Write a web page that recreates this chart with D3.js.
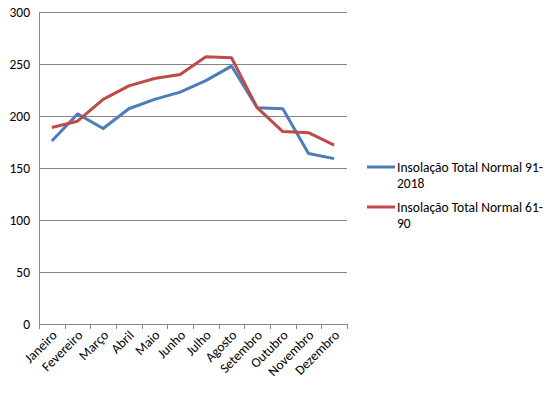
<!DOCTYPE html>
<html>
<head>
<meta charset="utf-8">
<script src="https://cdn.jsdelivr.net/npm/d3@7"></script>
<style>
  body { margin: 0; background: #fff; }
  svg { font-family: Calibri, Carlito, "Liberation Sans", Arial, sans-serif; }
</style>
</head>
<body>
<svg id="chart" width="556" height="393"></svg>
<script>
const months = ["Janeiro", "Fevereiro", "Março", "Abril", "Maio", "Junho",
    "Julho", "Agosto", "Setembro", "Outubro", "Novembro", "Dezembro"];
const normal91 = [176, 202, 188, 207, 216, 223, 234, 248, 208, 207, 164, 159];
const normal61 = [189, 195, 216, 229, 236, 240, 257, 256, 208, 185, 184, 172];
const yTicks = [0, 50, 100, 150, 200, 250, 300];
const seriesNames = ["Insolação Total Normal 91-2018", "Insolação Total Normal 61-90"];
const seriesColors = ["#4a7ebb", "#be4b48"];

const svg = d3.select("#chart");
const margin = { top: 12, left: 39 },
    width = 308,
    height = 312;

const x = d3.scaleBand().domain(months).range([0, width]);
const y = d3.scaleLinear().domain([0, 300]).range([height, 0]);

const chart = svg.append("g")
    .attr("transform", `translate(${margin.left},${margin.top})`);

// gridlines
chart.selectAll(".grid")
    .data(yTicks)
    .enter()
    .append("line")
    .attr("x1", 0)
    .attr("x2", width)
    .attr("y1", d => Math.round(y(d)) + 0.5)
    .attr("y2", d => Math.round(y(d)) + 0.5)
    .attr("stroke", "#868686")
    .attr("stroke-width", 1);

// y axis line
chart.append("line")
    .attr("x1", 0.5).attr("x2", 0.5)
    .attr("y1", 0).attr("y2", height)
    .attr("stroke", "#868686");

// y labels
chart.selectAll(".ylab")
    .data(yTicks)
    .enter()
    .append("text")
    .attr("x", -9)
    .attr("y", d => y(d))
    .attr("dy", "0.35em")
    .attr("text-anchor", "end")
    .style("font-size", "13.5px")
    .attr("fill", "#000")
    .text(d => d);

// x ticks at category boundaries
const bounds = months.map(m => x(m)).concat([width]);
chart.selectAll(".xtick")
    .data(bounds)
    .enter()
    .append("line")
    .attr("x1", d => Math.round(d) + 0.5)
    .attr("x2", d => Math.round(d) + 0.5)
    .attr("y1", height)
    .attr("y2", height + 5)
    .attr("stroke", "#868686");

// x labels, rotated
chart.selectAll(".xlab")
    .data(months)
    .enter()
    .append("text")
    .attr("text-anchor", "end")
    .attr("transform", d => `translate(${x(d) + x.bandwidth() / 2 + 6},${height + 12}) rotate(-45)`)
    .style("font-size", "13.5px")
    .attr("fill", "#000")
    .text(d => d);

// lines
const line = d3.line()
    .x((d, i) => x(months[i]) + x.bandwidth() / 2)
    .y(d => y(d));

[normal91, normal61].forEach((vals, i) => {
    chart.append("path")
        .datum(vals)
        .attr("fill", "none")
        .attr("stroke", seriesColors[i])
        .attr("stroke-width", 3)
        .attr("stroke-linejoin", "round")
        .attr("d", line);
});

// legend
const legend = svg.append("g");
const legendY = [167, 207];
seriesNames.forEach((name, i) => {
    legend.append("line")
        .attr("x1", 367).attr("x2", 395)
        .attr("y1", legendY[i]).attr("y2", legendY[i])
        .attr("stroke", seriesColors[i])
        .attr("stroke-width", 3);
    const parts = name.split(/(?<=-)/);
    const t = legend.append("text")
        .attr("x", 397)
        .attr("y", legendY[i] + 5)
        .style("font-size", "13.5px")
        .attr("fill", "#000");
    parts.forEach((p, j) => {
        t.append("tspan")
            .attr("x", 397)
            .attr("dy", j === 0 ? 0 : 16)
            .text(p);
    });
});
</script>
</body>
</html>
